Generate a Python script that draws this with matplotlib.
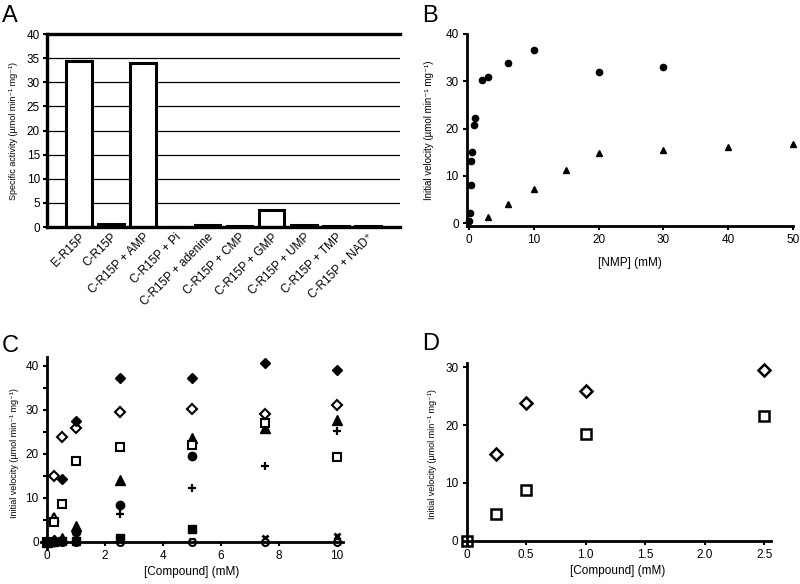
import matplotlib
matplotlib.use("Agg")
import matplotlib.pyplot as plt
import numpy as np

plt.rcParams['font.family'] = ['Liberation Sans', 'DejaVu Sans']
plt.rcParams['font.size'] = 8.5

# ---------------- data ----------------
a_categories = ["E-R15P", "C-R15P", "C-R15P + AMP", "C-R15P + Pi", "C-R15P + adenine",
                "C-R15P + CMP", "C-R15P + GMP", "C-R15P + UMP", "C-R15P + TMP", "C-R15P + NAD\u207a"]
a_values = [34.5, 0.6, 34.0, 0.0, 0.4, 0.3, 3.5, 0.4, 0.3, 0.2]

b_amp_x = [0.05, 0.1, 0.25, 0.375, 0.5, 0.75, 1, 2, 3, 6, 10, 20, 30]
b_amp_y = [0.5, 2.1, 8.0, 13.2, 15.1, 20.7, 22.3, 30.3, 30.9, 33.8, 36.7, 32.0, 33.0]
b_other_x = [3, 6, 10, 15, 20, 30, 40, 50]
b_other_y = [1.2, 4.0, 7.2, 11.2, 14.9, 15.5, 16.1, 16.7]

c_x = [0, 0.25, 0.5, 1, 2.5, 5, 7.5, 10]
c_filled_diamond = [0.0, 0.4, 14.4, 27.4, 37.3, 37.3, 40.7, 39.2]
c_open_diamond = [0.0, 15.1, 23.8, 25.8, 29.5, 30.2, 29.1, 31.1]
c_open_square = [0.0, 4.6, 8.7, 18.5, 21.5, 22.0, 27.0, 19.4]
c_filled_triangle = [0.0, 0.4, 1.0, 3.6, 14.1, 23.6, 25.8, 27.7]
c_filled_circle_x = [0, 0.25, 0.5, 1, 2.5, 5]
c_filled_circle = [0.0, 0.1, 0.3, 2.2, 8.4, 19.6]
c_plus = [0.0, 0.0, 0.2, 0.3, 6.4, 12.3, 17.3, 25.3]
c_filled_square_x = [0, 0.25, 0.5, 1, 2.5, 5]
c_filled_square = [0.0, 0.0, 0.2, 0.3, 0.8, 2.9]
c_cross = [0.0, 0.0, 0.0, 0.0, 0.1, 0.3, 0.8, 1.3]
c_open_circle = [0.0, 0.0, 0.0, 0.0, 0.0, 0.1, 0.1, 0.0]
c_open_triangle_x = [0.25]
c_open_triangle = [5.6]

d_x = [0, 0.25, 0.5, 1.0, 2.5]
d_open_diamond_x = [0.25, 0.5, 1.0, 2.5]
d_open_diamond = [15.0, 23.9, 25.9, 29.5]
d_open_square = [0.0, 4.6, 8.7, 18.5, 21.6]

ylab = "Initial velocity (\u00b5mol min\u207b\u00b9 mg\u207b\u00b9)"

W, H = 800, 584
fig = plt.figure(figsize=(8, 5.84), dpi=100)

def axes_px(l, t, r, b):
    return fig.add_axes([l / W, 1 - b / H, (r - l) / W, (b - t) / H])

# ---------------- Panel A ----------------
axA = axes_px(47, 34, 400, 227)
xs = np.arange(len(a_categories))
axA.set_xlim(-1.0, 10.0)
axA.set_ylim(0, 40)
for yv in range(5, 40, 5):
    axA.axhline(yv, color='black', lw=0.9, zorder=0)
axA.bar(xs, a_values, width=0.8, color='white', edgecolor='black', linewidth=2.2, zorder=2)
axA.set_yticks(range(0, 41, 5))
axA.set_xticks(xs)
axA.set_xticklabels(a_categories, rotation=45, ha='right', rotation_mode='anchor', fontsize=8.5)
axA.tick_params(axis='x', length=0, pad=3)
axA.tick_params(axis='y', length=3, width=1.5, pad=2)
for s in ['left', 'bottom', 'top']:
    axA.spines[s].set_linewidth(2.4)
axA.spines['right'].set_visible(False)
axA.set_ylabel("Specific activity (\u00b5mol min\u207b\u00b9 mg\u207b\u00b9)", fontsize=6.5, labelpad=6)
fig.text(2 / W, 1 - 22 / H, "A", fontsize=17)

# ---------------- Panel B ----------------
axB = axes_px(467, 34, 793, 226)
axB.set_xlim(-0.3, 50)
axB.set_ylim(-0.6, 40)
axB.plot(b_amp_x, b_amp_y, 'o', color='black', ms=4.5, clip_on=False)
axB.plot(b_other_x, b_other_y, '^', color='black', ms=4.5, clip_on=False)
axB.set_xticks(range(0, 51, 10))
axB.set_yticks(range(0, 41, 10))
for s in ['top', 'right']:
    axB.spines[s].set_visible(False)
for s in ['left', 'bottom']:
    axB.spines[s].set_linewidth(2.0)
axB.tick_params(length=3, width=1.5, pad=3)
axB.set_xlabel("[NMP] (mM)", fontsize=8.5, labelpad=8)
axB.set_ylabel(ylab, fontsize=7, labelpad=8)
fig.text(422 / W, 1 - 22 / H, "B", fontsize=17)

# ---------------- Panel C ----------------
axC = axes_px(41.2, 357.2, 342.8, 548.6)
axC.set_xlim(-0.2, 10.2)
axC.set_ylim(-1.5, 42)
mk = dict(clip_on=False, linestyle='none')
axC.plot(c_x, c_cross, 'x', color='black', ms=5, mew=2, **mk)
axC.plot(c_x, c_open_circle, 'o', mfc='white', mec='black', ms=5, mew=1.5, **mk)
axC.plot(c_filled_square_x, c_filled_square, 's', color='black', ms=5.5, **mk)
axC.plot(c_x, c_plus, '+', color='black', ms=6, mew=1.6, **mk)
axC.plot(c_filled_circle_x, c_filled_circle, 'o', color='black', ms=6, **mk)
axC.plot(c_x, c_filled_triangle, '^', color='black', ms=6.5, **mk)
axC.plot(c_open_triangle_x, c_open_triangle, '^', mfc='white', mec='black', ms=6, mew=1.5, **mk)
axC.plot(c_x, c_open_square, 's', mfc='white', mec='black', ms=6, mew=1.5, **mk)
axC.plot(c_x, c_open_diamond, 'D', mfc='white', mec='black', ms=5, mew=1.5, **mk)
axC.plot(c_x, c_filled_diamond, 'D', color='black', ms=5.5, **mk)
axC.spines['left'].set_position(('data', 0))
axC.spines['bottom'].set_position(('data', 0))
for s in ['top', 'right']:
    axC.spines[s].set_visible(False)
for s in ['left', 'bottom']:
    axC.spines[s].set_linewidth(2.0)
axC.set_xticks(range(0, 11, 2))
axC.set_yticks(range(0, 41, 10))
axC.set_yticks(range(5, 41, 10), minor=True)
axC.tick_params(which='both', length=3, width=1.5, pad=3)
axC.set_xlabel("[Compound] (mM)", fontsize=8.5, labelpad=3)
axC.set_ylabel(ylab, fontsize=6.5)
axC.yaxis.set_label_coords(-0.075, 0.5)
fig.text(2 / W, 1 - 352 / H, "C", fontsize=17)

# ---------------- Panel D ----------------
axD = axes_px(463.1, 363.3, 771.3, 544.2)
axD.set_xlim(-0.03, 2.56)
axD.set_ylim(-0.6, 30.7)
axD.plot(d_open_diamond_x, d_open_diamond, 'D', mfc='white', mec='black', ms=6, mew=1.8, **mk)
axD.plot(d_x, d_open_square, 's', mfc='white', mec='black', ms=6.5, mew=1.8, **mk)
axD.spines['left'].set_position(('data', 0))
axD.spines['bottom'].set_position(('data', 0))
for s in ['top', 'right']:
    axD.spines[s].set_visible(False)
for s in ['left', 'bottom']:
    axD.spines[s].set_linewidth(2.0)
axD.set_xticks([0, 0.5, 1.0, 1.5, 2.0, 2.5])
axD.set_xticklabels(["0", "0.5", "1.0", "1.5", "2.0", "2.5"])
axD.set_yticks(range(0, 31, 10))
axD.tick_params(length=3, width=1.5, pad=3)
axD.set_xlabel("[Compound] (mM)", fontsize=8.5, labelpad=3)
axD.set_ylabel(ylab, fontsize=6.5)
axD.yaxis.set_label_coords(-0.085, 0.5)
fig.text(422 / W, 1 - 350 / H, "D", fontsize=17)

fig.savefig("out.png", dpi=100)
